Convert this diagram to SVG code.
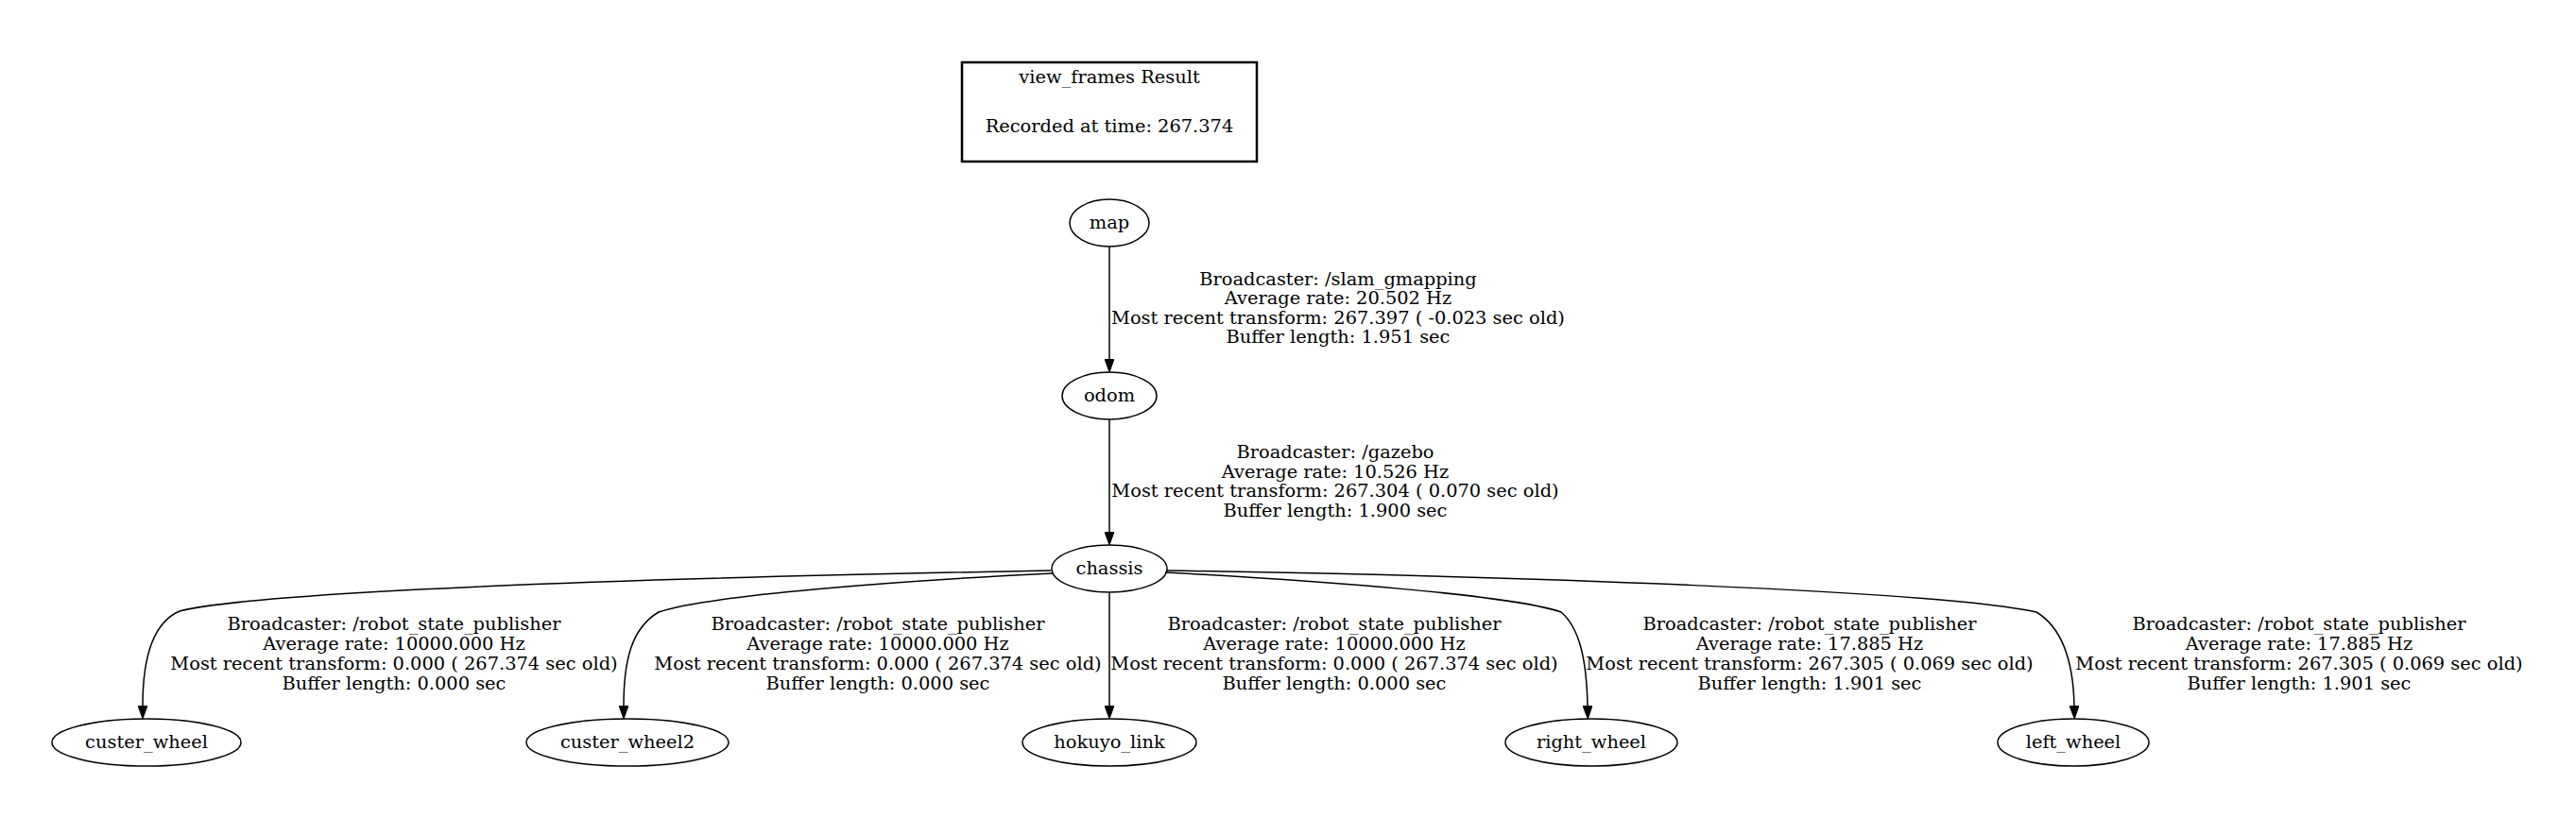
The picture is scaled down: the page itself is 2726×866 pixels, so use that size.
<svg xmlns="http://www.w3.org/2000/svg" width="2726" height="866" viewBox="0 0 2726 866">
<style>
text{font-family:"DejaVu Serif","Liberation Serif",serif;font-size:19.4px;fill:#000;text-anchor:middle}
.n{fill:none;stroke:#000;stroke-width:1.5}
.e{fill:none;stroke:#000;stroke-width:1.5}
</style>
<defs>
<marker id="ah" markerUnits="userSpaceOnUse" viewBox="0 0 14 10" refX="0" refY="5" markerWidth="14" markerHeight="10" orient="auto">
<path d="M0,0 L14,5 L0,10 z" fill="#000" stroke="#000" stroke-width="1"/>
</marker>
</defs>
<rect width="2726" height="866" fill="#fff"/>
<g id="legend">
<rect x="1018" y="66" width="312" height="105" fill="none" stroke="#000" stroke-width="2.5"/>
<text x="1174" y="88">view_frames Result</text>
<text x="1174" y="140">Recorded at time: 267.374</text>
</g>
<g id="connectors">
<path class="e" d="M1174,261 L1174,380" marker-end="url(#ah)"/>
<path class="e" d="M1174,444 L1174,563" marker-end="url(#ah)"/>
<path class="e" d="M1112,604 C900,608 300,620 190,647 C160,660 151,700 151,747" marker-end="url(#ah)"/>
<path class="e" d="M1114,607 C950,615 750,630 697,648 C668,665 660,700 660,747" marker-end="url(#ah)"/>
<path class="e" d="M1174,627 L1174,747" marker-end="url(#ah)"/>
<path class="e" d="M1233,606 C1400,615 1600,630 1652,648 C1672,665 1679,700 1680,747" marker-end="url(#ah)"/>
<path class="e" d="M1235,604 C1600,610 2050,625 2155,648 C2183,665 2194,700 2195,747" marker-end="url(#ah)"/>
<g id="label-map-odom">
<text x="1416" y="302">Broadcaster: /slam_gmapping</text>
<text x="1416" y="322">Average rate: 20.502 Hz</text>
<text x="1416" y="343">Most recent transform: 267.397 ( -0.023 sec old)</text>
<text x="1416" y="363">Buffer length: 1.951 sec</text>
</g>
<g id="label-odom-chassis">
<text x="1413" y="485">Broadcaster: /gazebo</text>
<text x="1413" y="506">Average rate: 10.526 Hz</text>
<text x="1413" y="526">Most recent transform: 267.304 ( 0.070 sec old)</text>
<text x="1413" y="547">Buffer length: 1.900 sec</text>
</g>
<g id="label-chassis-custer_wheel">
<text x="417" y="667">Broadcaster: /robot_state_publisher</text>
<text x="417" y="688">Average rate: 10000.000 Hz</text>
<text x="417" y="709">Most recent transform: 0.000 ( 267.374 sec old)</text>
<text x="417" y="730">Buffer length: 0.000 sec</text>
</g>
<g id="label-chassis-custer_wheel2">
<text x="929" y="667">Broadcaster: /robot_state_publisher</text>
<text x="929" y="688">Average rate: 10000.000 Hz</text>
<text x="929" y="709">Most recent transform: 0.000 ( 267.374 sec old)</text>
<text x="929" y="730">Buffer length: 0.000 sec</text>
</g>
<g id="label-chassis-hokuyo_link">
<text x="1412" y="667">Broadcaster: /robot_state_publisher</text>
<text x="1412" y="688">Average rate: 10000.000 Hz</text>
<text x="1412" y="709">Most recent transform: 0.000 ( 267.374 sec old)</text>
<text x="1412" y="730">Buffer length: 0.000 sec</text>
</g>
<g id="label-chassis-right_wheel">
<text x="1915" y="667">Broadcaster: /robot_state_publisher</text>
<text x="1915" y="688">Average rate: 17.885 Hz</text>
<text x="1915" y="709">Most recent transform: 267.305 ( 0.069 sec old)</text>
<text x="1915" y="730">Buffer length: 1.901 sec</text>
</g>
<g id="label-chassis-left_wheel">
<text x="2433" y="667">Broadcaster: /robot_state_publisher</text>
<text x="2433" y="688">Average rate: 17.885 Hz</text>
<text x="2433" y="709">Most recent transform: 267.305 ( 0.069 sec old)</text>
<text x="2433" y="730">Buffer length: 1.901 sec</text>
</g>
</g>
<g id="map"><ellipse class="n" cx="1174" cy="236" rx="42" ry="25"/><text x="1174" y="242">map</text></g>
<g id="odom"><ellipse class="n" cx="1174" cy="419" rx="50" ry="25"/><text x="1174" y="425">odom</text></g>
<g id="chassis"><ellipse class="n" cx="1174" cy="602" rx="61" ry="25"/><text x="1174" y="608">chassis</text></g>
<g id="custer_wheel"><ellipse class="n" cx="155" cy="786" rx="100" ry="25"/><text x="155" y="792">custer_wheel</text></g>
<g id="custer_wheel2"><ellipse class="n" cx="664" cy="786" rx="107" ry="25"/><text x="664" y="792">custer_wheel2</text></g>
<g id="hokuyo_link"><ellipse class="n" cx="1174" cy="786" rx="92" ry="25"/><text x="1174" y="792">hokuyo_link</text></g>
<g id="right_wheel"><ellipse class="n" cx="1684" cy="786" rx="91" ry="25"/><text x="1684" y="792">right_wheel</text></g>
<g id="left_wheel"><ellipse class="n" cx="2194" cy="786" rx="80" ry="25"/><text x="2194" y="792">left_wheel</text></g>
</svg>
